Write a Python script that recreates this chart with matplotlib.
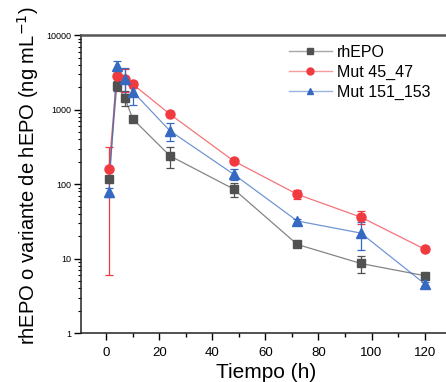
import matplotlib
matplotlib.use("Agg")
import matplotlib.pyplot as plt
from matplotlib.colors import to_rgba
from matplotlib.lines import Line2D
from matplotlib.ticker import LogLocator, NullFormatter, MultipleLocator

plt.rcParams['font.family'] = ['Liberation Sans', 'DejaVu Sans']

# sampling times (h)
tiempo = [1, 4, 7, 10, 24, 48, 72, 96, 120]

# mean concentrations (ng/mL) and errors
rhepo = [118, 2100, 1450, 750, 240, 86, 15.5, 8.6, 5.9]
rhepo_err = [10, 300, 330, 60, 75, 18, 1.2, 2.2, 0.5]

mut45 = [160, 2800, 2600, 2200, 870, 205, 73, 36, 13.4]
mut45_err = [154, 500, 900, 250, 40, 15, 10, 7, 0.8]

mut151 = [78, 3900, 2600, 1750, 520, 136, 32, 22, 4.6]
mut151_err = [10, 600, 1000, 600, 140, 22, 2, 9, 0.3]

series = [
    ("rhEPO", rhepo, rhepo_err, "#515151", "s", 6),
    ("Mut 45_47", mut45, mut45_err, "#F03A3F", "o", 6.5),
    ("Mut 151_153", mut151, mut151_err, "#3569C2", "^", 7),
]

fig = plt.figure(figsize=(4.46, 3.82), dpi=100)
ax = fig.add_axes([0.1816, 0.128, 0.83, 0.78])

handles = []
for name, vals, errs, col, mk, ms in series:
    ax.plot(tiempo, vals, color=col, lw=0.9, alpha=0.7)
    ax.errorbar(tiempo, vals, yerr=errs, color=col, ecolor=col, elinewidth=0.9,
                capsize=3, capthick=0.9, marker=mk, markersize=ms, ls="none")
    handles.append(Line2D([], [], color=to_rgba(col, 0.5), lw=1.0, marker=mk,
                          markersize=5, markerfacecolor=col, markeredgecolor=col,
                          label=name))

ax.set_yscale("log")
ax.set_ylim(1, 10000)
ax.set_xlim(-9.5, 130)

ax.xaxis.set_major_locator(MultipleLocator(20))
ax.xaxis.set_minor_locator(MultipleLocator(10))
ax.yaxis.set_minor_locator(LogLocator(base=10, subs=range(2, 10)))
ax.yaxis.set_minor_formatter(NullFormatter())
ax.set_yticks([1, 10, 100, 1000, 10000])
ax.set_yticklabels(["1", "10", "100", "1000", "10000"])

ax.tick_params(axis="x", which="major", direction="out", length=5, width=1, labelsize=9.5, pad=5)
ax.tick_params(axis="x", which="minor", direction="out", length=3, width=1)
ax.tick_params(axis="y", which="major", direction="out", length=5, width=1, labelsize=6.5, pad=2)
ax.tick_params(axis="y", which="minor", direction="out", length=2.5, width=0.8)
ax.tick_params(top=False, right=False)

for s in ["left", "bottom"]:
    ax.spines[s].set_color("#222222")
    ax.spines[s].set_linewidth(1.1)
ax.spines["top"].set_color("#555555")
ax.spines["top"].set_linewidth(1.8)
ax.spines["right"].set_visible(False)

ax.set_xlabel("Tiempo (h)", fontsize=15, labelpad=3)
ax.set_ylabel("rhEPO o variante de hEPO (ng mL$^{-1}$)", fontsize=14.5)
ax.yaxis.set_label_coords(-0.107, 0.53)

ax.legend(handles=handles, loc="upper left", bbox_to_anchor=(0.535, 1.0),
          frameon=False, fontsize=11.5, handlelength=2.7, handletextpad=0.3,
          labelspacing=0.32, borderaxespad=0.2)

fig.savefig("out.png", dpi=100)
